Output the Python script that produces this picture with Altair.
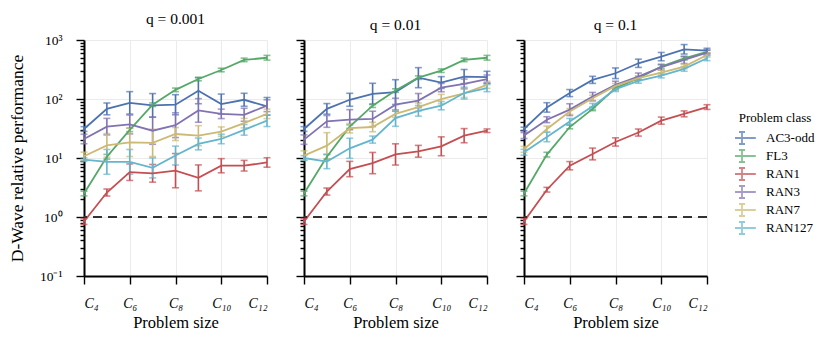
import altair as alt
import pandas as pd

sizes = [4, 5, 6, 7, 8, 9, 10, 11, 12]
classes = ["AC3-odd", "FL3", "RAN1", "RAN3", "RAN7", "RAN127"]
colors = ["#4C72B0", "#55A868", "#C44E52", "#8172B2", "#CCB974", "#64B5CD"]
q_labels = ["q = 0.001", "q = 0.01", "q = 0.1"]
x_ticks = [4, 6, 8, 10, 12]
x_tick_labels = ["C₄", "C₆", "C₈", "C₁₀", "C₁₂"]
y_decades = [0.1, 1, 10, 100, 1000]
y_tick_labels = ["10⁻¹", "10⁰", "10¹", "10²", "10³"]

# ---- q = 0.001 : values and log10 half-widths of the error bars
v1_ac3 = [31, 68, 86, 78, 80, 138, 82, 97, 75]
v1_fl3 = [2.5, 10.5, 30, 80, 143, 218, 310, 460, 500]
v1_ran1 = [0.84, 2.6, 5.75, 5.5, 6.1, 4.6, 7.4, 7.4, 8.4]
v1_ran3 = [21, 34, 37, 29, 36, 64, 56, 54, 77]
v1_ran7 = [10.7, 16.4, 18.4, 18, 25.5, 23.9, 28, 39, 56]
v1_ran127 = [9.4, 8.6, 8.6, 6.8, 11, 17.3, 21, 30, 43]
e1_ac3 = [0.04, 0.10, 0.19, 0.20, 0.17, 0.22, 0.17, 0.11, 0.15]
e1_fl3 = [0.04, 0.04, 0.03, 0.03, 0.03, 0.03, 0.03, 0.03, 0.04]
e1_ran1 = [0.05, 0.06, 0.14, 0.15, 0.29, 0.22, 0.12, 0.09, 0.08]
e1_ran3 = [0.08, 0.14, 0.16, 0.23, 0.21, 0.20, 0.08, 0.11, 0.10]
e1_ran7 = [0.07, 0.20, 0.24, 0.23, 0.11, 0.17, 0.08, 0.08, 0.08]
e1_ran127 = [0.03, 0.21, 0.21, 0.17, 0.16, 0.10, 0.08, 0.09, 0.10]

# ---- q = 0.01
v2_ac3 = [31, 68, 97, 122, 131, 230, 190, 240, 234]
v2_fl3 = [2.5, 10.5, 34, 77, 139, 230, 302, 460, 500]
v2_ran1 = [0.84, 2.7, 6.5, 8.2, 11.5, 13, 15.8, 23.9, 29]
v2_ran3 = [20.5, 41.7, 44.6, 46, 80, 94, 156, 181, 217]
v2_ran7 = [11, 16.2, 32, 33.5, 56, 73, 99.5, 125, 174]
v2_ran127 = [10, 8.7, 14.6, 20.5, 47.5, 63, 77, 126, 153]
e2_ac3 = [0.04, 0.09, 0.11, 0.18, 0.21, 0.17, 0.10, 0.12, 0.10]
e2_fl3 = [0.04, 0.04, 0.03, 0.03, 0.03, 0.03, 0.03, 0.03, 0.04]
e2_ran1 = [0.05, 0.06, 0.13, 0.18, 0.18, 0.10, 0.16, 0.12, 0.03]
e2_ran3 = [0.08, 0.10, 0.17, 0.13, 0.11, 0.12, 0.07, 0.08, 0.07]
e2_ran7 = [0.08, 0.22, 0.08, 0.08, 0.06, 0.07, 0.08, 0.07, 0.06]
e2_ran127 = [0.04, 0.12, 0.17, 0.06, 0.14, 0.09, 0.07, 0.10, 0.06]

# ---- q = 0.1
v3_ac3 = [31, 72, 126, 211, 273, 403, 523, 696, 660]
v3_fl3 = [2.5, 11.4, 33.5, 68, 153, 225, 355, 490, 630]
v3_ran1 = [0.84, 2.9, 7.4, 11.7, 18.7, 27, 43, 56, 73]
v3_ran3 = [24, 44.6, 66, 110, 174, 240, 346, 459, 611]
v3_ran7 = [14, 31, 61.5, 103, 167, 225, 281, 355, 558]
v3_ran127 = [12.5, 22.7, 41.7, 75, 147, 203, 250, 324, 490]
e3_ac3 = [0.03, 0.08, 0.06, 0.06, 0.09, 0.07, 0.07, 0.08, 0.04]
e3_fl3 = [0.04, 0.04, 0.03, 0.03, 0.03, 0.03, 0.03, 0.03, 0.03]
e3_ran1 = [0.05, 0.04, 0.07, 0.10, 0.07, 0.06, 0.06, 0.05, 0.04]
e3_ran3 = [0.05, 0.05, 0.10, 0.07, 0.06, 0.06, 0.05, 0.06, 0.04]
e3_ran7 = [0.05, 0.05, 0.05, 0.05, 0.04, 0.04, 0.04, 0.04, 0.04]
e3_ran127 = [0.05, 0.08, 0.05, 0.05, 0.04, 0.04, 0.04, 0.04, 0.04]

values = {
    q_labels[0]: [v1_ac3, v1_fl3, v1_ran1, v1_ran3, v1_ran7, v1_ran127],
    q_labels[1]: [v2_ac3, v2_fl3, v2_ran1, v2_ran3, v2_ran7, v2_ran127],
    q_labels[2]: [v3_ac3, v3_fl3, v3_ran1, v3_ran3, v3_ran7, v3_ran127],
}
errors = {
    q_labels[0]: [e1_ac3, e1_fl3, e1_ran1, e1_ran3, e1_ran7, e1_ran127],
    q_labels[1]: [e2_ac3, e2_fl3, e2_ran1, e2_ran3, e2_ran7, e2_ran127],
    q_labels[2]: [e3_ac3, e3_fl3, e3_ran1, e3_ran3, e3_ran7, e3_ran127],
}

rows = []
for q in q_labels:
    for ci, cls in enumerate(classes):
        for s, v, e in zip(sizes, values[q][ci], errors[q][ci]):
            rows.append({"q": q, "cls": cls, "size": s, "value": v,
                         "lo": v / 10 ** e, "hi": v * 10 ** e})
df = pd.DataFrame(rows)

FONT = "Liberation Serif"

y_minor = sorted(set([round(m * 10 ** k, 6) for k in range(-1, 3) for m in range(1, 10)] + [1000]))
decade_test = "indexof([0.1, 1, 10, 100, 1000], datum.value) >= 0"

x_label_expr = " : ".join(
    [f"datum.value == {v} ? '{t}'" for v, t in zip(x_ticks, x_tick_labels)]) + " : ''"
y_label_expr = " : ".join(
    [f"datum.value == {v} ? '{t}'" for v, t in zip(y_decades, y_tick_labels)]) + " : ''"

legend_symbol = "M-2.3,0H2.3M0,-1V1M-0.5,-1H0.5M-0.5,1H0.5"


def panel(i):
    d = df[df.q == q_labels[i]]
    first = i == 0
    x = alt.X("size:Q", scale=alt.Scale(domain=[4, 12], nice=False, zero=False),
              axis=alt.Axis(values=x_ticks, labelExpr=x_label_expr, title="Problem size",
                            tickSize=8, labelPadding=12, labelFontStyle="italic",
                            labelFontSize=14, labelFont=FONT, labelFontWeight="normal",
                            titleFont=FONT, titleFontSize=16.5, titleFontWeight="normal",
                            titlePadding=4))
    yaxis = alt.Axis(values=y_minor,
                     labelExpr=y_label_expr,
                     labels=first,
                     title="D-Wave relative performance" if first else None,
                     tickSize={"condition": {"test": decade_test, "value": 8}, "value": 4},
                     gridOpacity={"condition": {"test": decade_test, "value": 1}, "value": 0},
                     labelFont=FONT, labelFontSize=13.5, labelFontWeight="normal",
                     titleFont=FONT, titleFontSize=17.5, titleFontWeight="normal",
                     titlePadding=13, labelPadding=14)
    yscale = alt.Scale(type="log", domain=[0.1, 1000], nice=False)
    color = alt.Color("cls:N", scale=alt.Scale(domain=classes, range=colors),
                      legend=alt.Legend(title="Problem class", orient="none",
                                        legendX=651, legendY=72,
                                        symbolType=legend_symbol, symbolSize=144,
                                        symbolStrokeWidth=1.8, symbolFillColor="transparent",
                                        labelFontSize=13, titleFontSize=13,
                                        labelFontWeight="normal", titleFontWeight="normal",
                                        titleAnchor="middle", titlePadding=4,
                                        labelOffset=17, rowPadding=0, clipHeight=18,
                                        labelFont=FONT, titleFont=FONT,
                                        labelColor="black", titleColor="black"))
    base = alt.Chart(d)
    err = base.mark_errorbar(ticks={"size": 7}, thickness=1.6).encode(
        x=x, y=alt.Y("lo:Q", scale=yscale, axis=yaxis), y2="hi:Q", color=color)
    line = base.mark_line(strokeWidth=1.8).encode(
        x=x, y=alt.Y("value:Q", scale=yscale, axis=yaxis), color=color)
    rule = base.mark_rule(strokeDash=[9, 6], color="#333333", strokeWidth=1.4).encode(
        y=alt.datum(1))
    return alt.layer(err, line, rule).properties(
        width=183, height=236,
        title=alt.TitleParams(q_labels[i], fontSize=15.5, fontWeight="normal", font=FONT,
                              offset=6, color="black"))


chart = alt.hconcat(panel(0), panel(1), panel(2), spacing=37, bounds="flush").properties(
    padding={"left": 0, "top": 3, "right": 5, "bottom": 5}
).configure_view(
    stroke=None
).configure_axis(
    domainColor="black", domainWidth=2, tickColor="black", tickWidth=1.4,
    gridColor="#ebebeb", gridWidth=1, labelColor="black", titleColor="black",
    labelFont=FONT, titleFont=FONT, titleFontWeight="normal"
).configure_title(
    font=FONT, fontWeight="normal"
)

chart.save("out.html", embed_options={"renderer": "svg", "actions": False})
